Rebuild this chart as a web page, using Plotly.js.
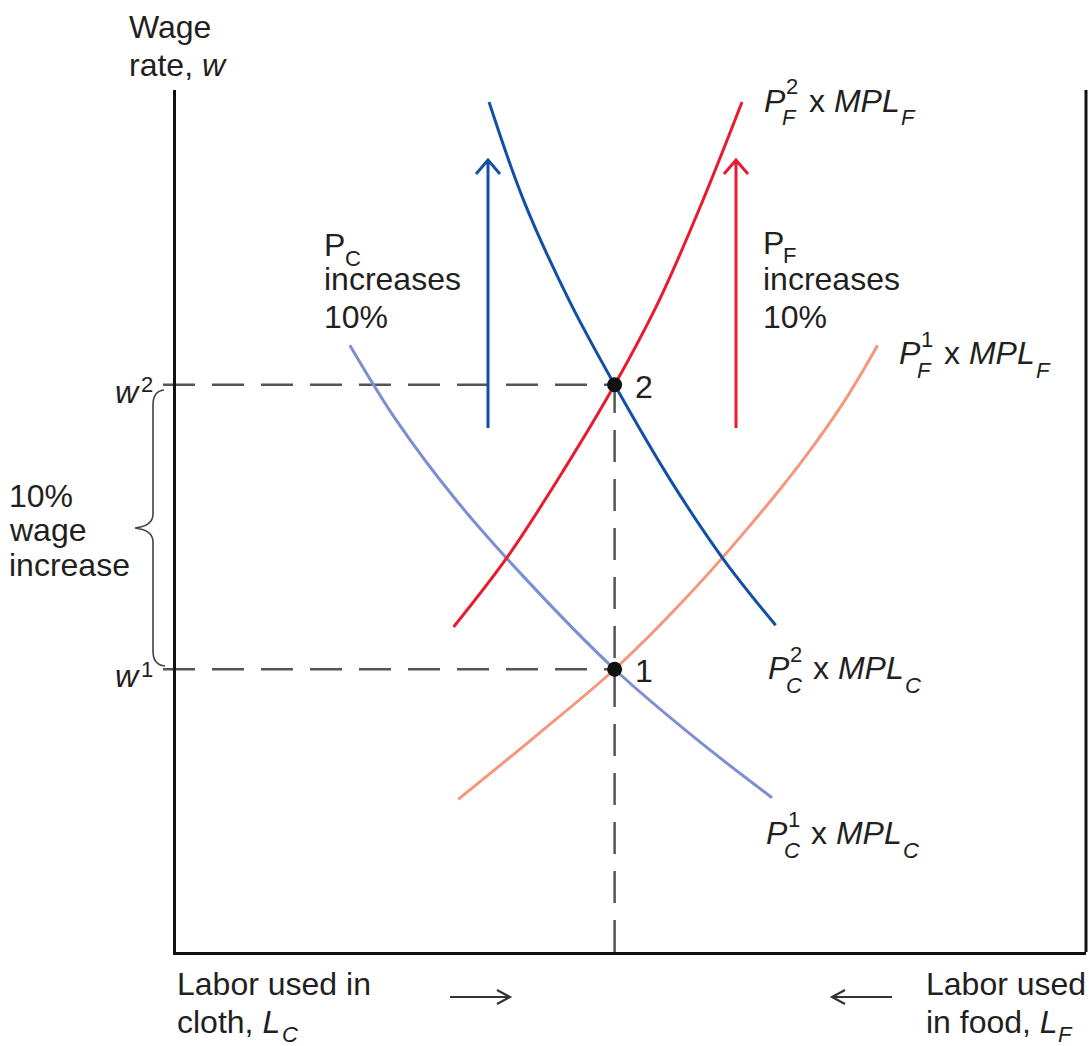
<!DOCTYPE html>
<html><head><meta charset="utf-8">
<script src="https://cdn.plot.ly/plotly-3.0.1.min.js"></script>
<style>html,body{margin:0;padding:0;background:#fff}</style>
</head><body>
<div id="chart" style="width:1089px;height:1046px"></div>
<script>
// ---- Data (x: labor used in cloth, 0..100 ; y: wage rate, 0..100) ----
const pc2X = [34.4, 38.2, 43.2, 48.2, 54.3, 60.2, 65.9];
const pc2Y = [98.6, 87.2, 75.6, 65.8, 54.8, 45.5, 37.9];
const pc1X = [19.1, 24.2, 30.8, 38.5, 48.2, 57.3, 65.5];
const pc1Y = [70.4, 61.7, 52.4, 43.2, 32.8, 24.6, 17.9];
const pf2X = [30.5, 36.4, 42.6, 48.2, 53.1, 57.9, 62.2];
const pf2Y = [37.7, 45.8, 55.9, 65.8, 75.6, 87.2, 98.6];
const pf1X = [31.0, 39.7, 48.2, 55.8, 62.7, 68.9, 73.5, 77.1];
const pf1Y = [17.7, 25.2, 32.8, 40.8, 49.0, 57.1, 64.0, 70.4];
const eqLabels = ['1', '2'];
const eqX = [48.2, 48.2];
const eqY = [32.8, 65.8];
const wageLabels = ['1', '2'];

// ---- Layout geometry ----
const W = 1089, H = 1046, ML = 176, MR = 3, MT = 90, MB = 94;
const plotW = W - ML - MR, plotH = H - MT - MB;
const xRange = [0, 100], yRange = [0, 100];
const PX = x => (x - ML) / plotW;          // pixel -> paper
const PY = y => (H - MB - y) / plotH;
const dx2p = v => (v - xRange[0]) / (xRange[1] - xRange[0]); // data -> paper
const dy2p = v => (v - yRange[0]) / (yRange[1] - yRange[0]);

const FONT = 'Liberation Sans, Arial, Helvetica, sans-serif';
const FS = 32, FSS = 22;
const TXT = '#231f20';
const C_DB = '#1150a6', C_LB = '#7d8fd2', C_R = '#ea1a2e', C_S = '#f5977d';

function txt(text, x, y, size, extra) {
  return Object.assign({
    text: text, xref: 'paper', yref: 'paper', x: PX(x), y: PY(y),
    xanchor: 'left', yanchor: 'middle', showarrow: false,
    font: {family: FONT, size: size || FS, color: TXT}
  }, extra || {});
}
function stacked(x0, yc, sup, sub) {
  return [
    txt('<i>P</i>', x0, yc),
    txt(sup, x0 + 22, yc - 14, FSS),
    txt('<i>' + sub + '</i>', x0 + 18, yc + 17, FSS),
    txt('x <i>MPL</i>', x0 + 45, yc),
    txt('<i>' + sub + '</i>', x0 + 137, yc + 17, FSS)
  ];
}

const traces = [
  {x: pc1X, y: pc1Y, mode: 'lines', line: {color: C_LB, width: 3, shape: 'spline'}},
  {x: pf1X, y: pf1Y, mode: 'lines', line: {color: C_S, width: 3, shape: 'spline'}},
  {x: pc2X, y: pc2Y, mode: 'lines', line: {color: C_DB, width: 3, shape: 'spline'}},
  {x: pf2X, y: pf2Y, mode: 'lines', line: {color: C_R, width: 3, shape: 'spline'}},
  {x: eqX, y: eqY, mode: 'markers', cliponaxis: false,
   marker: {color: '#111', size: 15}}
];

const dash = {color: '#555', width: 2.5, dash: '32px,17px'};
const shapes = [];
for (let i = 0; i < eqY.length; i++) {
  shapes.push({type: 'line', xref: 'paper', yref: 'paper',
    x0: PX(163), x1: dx2p(eqX[i]), y0: dy2p(eqY[i]), y1: dy2p(eqY[i]), line: dash, layer: 'below'});
}
shapes.push({type: 'line', xref: 'paper', yref: 'paper',
  x0: dx2p(eqX[0]), x1: dx2p(eqX[0]), y0: 0, y1: dy2p(eqY[1]), line: dash, layer: 'below'});
shapes.push({type: 'line', xref: 'paper', yref: 'paper', x0: 1, x1: 1, y0: 0, y1: 1,
  line: {color: '#111', width: 3}});

function upArrow(xp, yBot, yTop, color) {
  const x = PX(xp), hw = 12 / plotW, hh = 14 / plotH;
  return {type: 'path', xref: 'paper', yref: 'paper',
    path: `M ${x},${PY(yBot)} L ${x},${PY(yTop)} M ${x - hw},${PY(yTop) - hh} L ${x},${PY(yTop)} L ${x + hw},${PY(yTop) - hh}`,
    line: {color: color, width: 3}};
}
shapes.push(upArrow(488, 428, 160, C_DB));
shapes.push(upArrow(736, 428, 160, C_R));

function hArrow(xFrom, xTo, y) {
  const s = Math.sign(xTo - xFrom);
  const p = (a, b) => `${PX(a)},${PY(b)}`;
  return {type: 'path', xref: 'paper', yref: 'paper',
    path: `M ${p(xFrom, y)} L ${p(xTo, y)} M ${p(xTo - s * 13, y - 7)} L ${p(xTo, y)} L ${p(xTo - s * 13, y + 7)}`,
    line: {color: '#333', width: 2.2}};
}
shapes.push(hArrow(450, 510, 997));
shapes.push(hArrow(892, 832, 997));

(function () {
  const p = (a, b) => `${PX(a)},${PY(b)}`;
  shapes.push({type: 'path', xref: 'paper', yref: 'paper',
    path: `M ${p(164, 390)} Q ${p(153, 391)} ${p(153, 405)} L ${p(153, 514)} Q ${p(153, 526)} ${p(135, 528)} Q ${p(153, 530)} ${p(153, 542)} L ${p(153, 651)} Q ${p(153, 665)} ${p(165, 666)}`,
    line: {color: '#444', width: 1.6}});
})();

const annotations = [
  txt('Wage', 127, 27),
  txt('rate, <i>w</i>', 127, 65),
  txt('10%', 7, 496),
  txt('wage', 7, 530),
  txt('increase', 7, 565),
  txt('<i>w</i>', 113, 392),
  txt(wageLabels[1], 139, 385, FSS),
  txt('<i>w</i>', 113, 676),
  txt(wageLabels[0], 139, 669, FSS),
  txt('P', 322, 245),
  txt('C', 343, 258, FSS),
  txt('increases', 322, 279),
  txt('10%', 322, 317),
  txt('P', 761, 243),
  txt('F', 781, 256, FSS),
  txt('increases', 761, 279),
  txt('10%', 761, 317),
  txt('Labor used in', 175, 984),
  txt('cloth, <i>L</i>', 175, 1022),
  txt('<i>C</i>', 280, 1034, FSS),
  txt('Labor used', 924, 984),
  txt('in food, <i>L</i>', 924, 1022),
  txt('<i>F</i>', 1056, 1034, FSS)
].concat(
  stacked(762, 101, '2', 'F'),
  stacked(897, 353, '1', 'F'),
  stacked(766, 668, '2', 'C'),
  stacked(764, 833, '1', 'C')
);
for (let i = 0; i < eqLabels.length; i++) {
  annotations.push({text: eqLabels[i], xref: 'x', yref: 'y', x: eqX[i], y: eqY[i],
    xanchor: 'left', yanchor: 'middle', xshift: 18, yshift: -2, showarrow: false,
    font: {family: FONT, size: FS, color: TXT}});
}

const axisCommon = {showgrid: false, zeroline: false, showticklabels: false, ticks: '',
  showline: true, linecolor: '#111', linewidth: 3, fixedrange: true};

const layout = {
  width: W, height: H,
  margin: {l: ML, r: MR, t: MT, b: MB, pad: 0},
  paper_bgcolor: '#fff', plot_bgcolor: '#fff',
  showlegend: false, hovermode: false,
  xaxis: Object.assign({range: xRange}, axisCommon),
  yaxis: Object.assign({range: yRange}, axisCommon),
  shapes: shapes,
  annotations: annotations
};

Plotly.newPlot('chart', traces, layout, {staticPlot: true, displayModeBar: false});
</script>
</body></html>
